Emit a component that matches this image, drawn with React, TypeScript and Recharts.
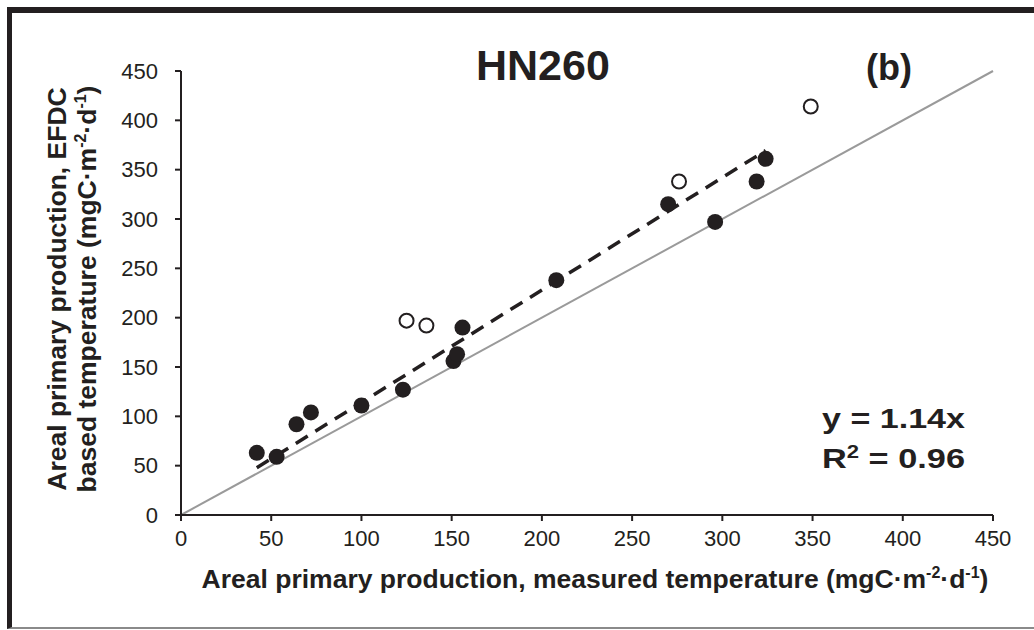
import React from "react";
import { ScatterChart, Scatter, XAxis, YAxis, ReferenceLine } from "recharts";

const FONT = '"Liberation Sans", Arial, Helvetica, sans-serif';
const INK = "#231f20";

const axisTicks = [0, 50, 100, 150, 200, 250, 300, 350, 400, 450];

// measured (x) vs EFDC-based (y), filled markers
const filledMeasured = [42, 53, 64, 72, 100, 123, 151, 153, 156, 208, 270, 296, 319, 324];
const filledModel = [63, 59, 92, 104, 111, 127, 156, 163, 190, 238, 315, 297, 338, 361];

// open markers
const openMeasured = [125, 136, 276, 349];
const openModel = [197, 192, 338, 414];

const fitSlope = 1.14;
const fitLabel = "y = 1.14x";
const r2Value = "0.96";

const filledData = filledMeasured.map((x, i) => ({ x, y: filledModel[i] }));
const openData = openMeasured.map((x, i) => ({ x, y: openModel[i] }));
const fitFrom = Math.min(...filledMeasured);
const fitTo = Math.max(...filledMeasured);

const FilledDot = (p: any) => <circle cx={p.cx} cy={p.cy} r={8} fill={INK} />;
const OpenDot = (p: any) => (
  <circle cx={p.cx} cy={p.cy} r={7} fill="#fff" stroke={INK} strokeWidth={2} />
);

function Unit() {
  return (
    <>
      (mgC·m<tspan dy={-10} fontSize={16}>-2</tspan>
      <tspan dy={10}>·d</tspan>
      <tspan dy={-10} fontSize={16}>-1</tspan>
      <tspan dy={10}>)</tspan>
    </>
  );
}

const XTitle = () => (
  <text x={595} y={588} textAnchor="middle" fontFamily={FONT} fontWeight="bold" fontSize={26.5} fill={INK}>
    Areal primary production, measured temperature <Unit />
  </text>
);

const YTitle = () => (
  <g fontFamily={FONT} fontWeight="bold" fontSize={26.5} fill={INK}>
    <text x={66} y={289} textAnchor="middle" transform="rotate(-90, 66, 289)">
      Areal primary production, EFDC
    </text>
    <text x={96} y={289} textAnchor="middle" transform="rotate(-90, 96, 289)">
      based temperature <Unit />
    </text>
  </g>
);

export default function App() {
  const tick = { fontFamily: FONT, fontSize: 22, fill: INK };
  return (
    <div style={{ position: "absolute", left: 0, top: 0, width: 1034, height: 630, background: "#fff", overflow: "hidden" }}>
      <div
        style={{
          position: "absolute",
          left: 7,
          top: 7,
          right: -10,
          bottom: 1,
          borderTop: `6px solid ${INK}`,
          borderLeft: `5px solid ${INK}`,
          borderBottom: "2px solid #8a8a8a",
        }}
      />
      <div style={{ position: "absolute", left: 0, top: 0 }}>
        <ScatterChart width={1034} height={630} margin={{ top: 71, right: 41, bottom: 75, left: 101 }}>
          <XAxis
            type="number"
            dataKey="x"
            domain={[0, 450]}
            ticks={axisTicks}
            interval={0}
            height={40}
            tick={tick}
            tickSize={6}
            tickMargin={9}
            axisLine={{ stroke: INK, strokeWidth: 2 }}
            tickLine={{ stroke: INK, strokeWidth: 2 }}
            label={{ content: () => <XTitle /> }}
          />
          <YAxis
            type="number"
            dataKey="y"
            domain={[0, 450]}
            ticks={axisTicks}
            interval={0}
            width={80}
            tick={tick}
            tickSize={6}
            tickMargin={17}
            axisLine={{ stroke: INK, strokeWidth: 2 }}
            tickLine={{ stroke: INK, strokeWidth: 2 }}
            label={{ content: () => <YTitle /> }}
          />
          <ReferenceLine
            segment={[{ x: 0, y: 0 }, { x: 450, y: 450 }]}
            stroke="#9a9a9a"
            strokeWidth={2}
          />
          <ReferenceLine
            segment={[{ x: fitFrom, y: fitFrom * fitSlope }, { x: fitTo, y: fitTo * fitSlope }]}
            stroke={INK}
            strokeWidth={3.5}
            strokeDasharray="14 9"
          />
          <Scatter data={filledData} shape={FilledDot} isAnimationActive={false} />
          <Scatter data={openData} shape={OpenDot} isAnimationActive={false} />
        </ScatterChart>
      </div>
      <svg width={1034} height={630} style={{ position: "absolute", left: 0, top: 0, pointerEvents: "none" }}>
        <g fontFamily={FONT} fontWeight="bold" fill={INK}>
          <text x={476} y={80} fontSize={43}>HN260</text>
          <text x={866} y={80} fontSize={36}>(b)</text>
          <text x={822} y={428} fontSize={28} textLength={143} lengthAdjust="spacingAndGlyphs">{fitLabel}</text>
          <text x={822} y={468} fontSize={28} textLength={143} lengthAdjust="spacingAndGlyphs">
            R<tspan dy={-10} fontSize={18}>2</tspan>
            <tspan dy={10}> = {r2Value}</tspan>
          </text>
        </g>
      </svg>
    </div>
  );
}
